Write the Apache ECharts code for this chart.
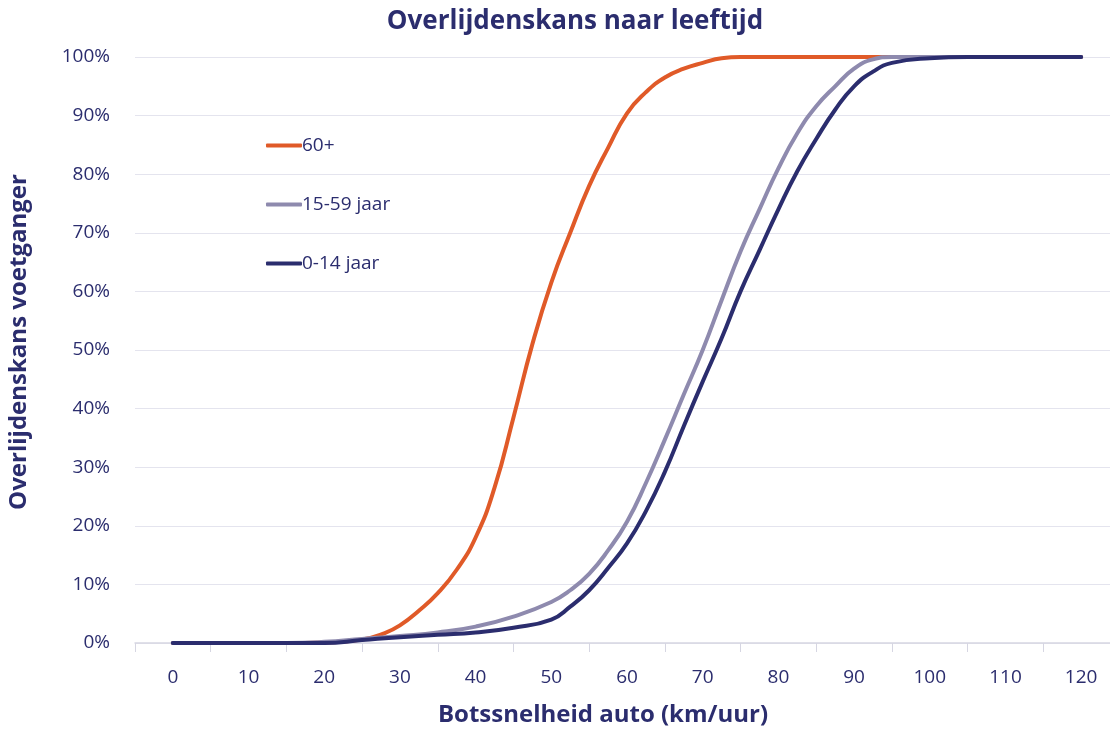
<!DOCTYPE html>
<html>
<head>
  <meta charset="utf-8">
  <title>Overlijdenskans naar leeftijd</title>
  <script src="https://cdn.jsdelivr.net/npm/echarts@6/dist/echarts.min.js"></script>
  <style>
    html, body { margin: 0; padding: 0; background: #fff; }
    #chart { width: 1110px; height: 731px; }
  </style>
</head>
<body>
<div id="chart"></div>
<script>
  // snelheid (km/uur) en kansen (%)
  var tickLabels = ['0', '10', '20', '30', '40', '50', '60', '70', '80', '90', '100', '110', '120'];
  var speedOld = [0, 5, 10, 15, 20, 25, 28, 30, 32.5, 35, 37.5, 40, 42.5, 45, 47.5, 50, 52.5, 55, 57.5, 60, 62.5, 65, 67.5, 70, 72.5, 75, 80, 90, 100, 110, 120];
  var riskOld = [0, 0, 0, 0, 0.1, 0.6, 1.7, 3, 5.5, 8.5, 12.5, 18, 26.5, 38.5, 51, 61.5, 70, 78, 84.5, 90.4, 94, 96.5, 98, 99, 99.8, 100, 100, 100, 100, 100, 100];
  var speedMid = [0, 5, 10, 15, 20, 25, 30, 35, 40, 45, 50, 52.5, 55, 57.5, 60, 62.5, 65, 67.5, 70, 72.5, 75, 77.5, 80, 82.5, 85, 87.5, 90, 92.5, 95, 100, 110, 120];
  var riskMid = [0, 0, 0, 0, 0.2, 0.7, 1.2, 1.8, 2.8, 4.5, 7, 9, 11.8, 15.8, 20.7, 27.3, 34.7, 42.4, 50, 58.5, 66.8, 74, 81, 87, 91.6, 95, 98, 99.6, 100, 100, 100, 100];
  var speedKid = [0, 5, 10, 15, 20, 25, 30, 35, 40, 45, 50, 52.5, 55, 57.5, 60, 62.5, 65, 67.5, 70, 72.5, 75, 77.5, 80, 82.5, 85, 87.5, 90, 92.5, 95, 100, 105, 110, 120];
  var riskKid = [0, 0, 0, 0, 0, 0.5, 1, 1.4, 1.8, 2.6, 4, 6.2, 9, 12.8, 17, 22.5, 29.2, 37, 44.6, 52, 60, 67, 74, 80.5, 86, 91, 95, 97.5, 99, 99.8, 100, 100, 100];

  var navy = '#2b2d6e';

  function pairs(xs, ys) {
    var out = [];
    for (var i = 0; i < xs.length; i++) {
      out.push([xs[i], ys[i]]);
    }
    return out;
  }

  function lineSeries(name, color, xs, ys) {
    return {
      name: name,
      type: 'line',
      xAxisIndex: 1,
      smooth: 0.5,
      symbol: 'none',
      lineStyle: { color: color, width: 4, cap: 'round' },
      itemStyle: { color: color },
      data: pairs(xs, ys)
    };
  }

  var chart = echarts.init(document.getElementById('chart'));
  chart.setOption({
    animation: false,
    textStyle: { fontFamily: 'Open Sans' },
    title: {
      text: 'Overlijdenskans naar leeftijd',
      left: 570,
      textAlign: 'center',
      top: 4,
      textStyle: { fontFamily: 'Open Sans', fontWeight: 'bold', fontSize: 26, color: navy }
    },
    legend: {
      orient: 'vertical',
      left: 261,
      top: 131,
      itemGap: 40,
      itemWidth: 36,
      itemHeight: 4,
      icon: 'roundRect',
      textStyle: { color: navy, fontSize: 19, padding: [0, 0, 0, -5] },
      data: ['60+', '15-59 jaar', '0-14 jaar']
    },
    grid: { left: 135, right: -9, top: 57, bottom: 88, outerBoundsMode: 'none' },
    xAxis: [
      {
        type: 'category',
        data: tickLabels,
        boundaryGap: true,
        name: 'Botssnelheid auto (km/uur)',
        nameLocation: 'middle',
        nameGap: 60,
        nameTextStyle: { fontWeight: 'bold', fontSize: 24, color: navy, padding: [0, 48, 0, 0] },
        axisLine: { lineStyle: { color: '#d6d6e2', width: 1.5 } },
        axisTick: { show: true, length: 9, lineStyle: { color: '#d6d6e2' } },
        axisLabel: { color: navy, fontSize: 19, margin: 25 },
        splitLine: { show: false }
      },
      {
        type: 'value',
        min: -5,
        max: 125,
        show: false
      }
    ],
    yAxis: {
      type: 'value',
      min: 0,
      max: 100,
      interval: 10,
      name: 'Overlijdenskans voetganger',
      nameLocation: 'middle',
      nameGap: 104,
      nameTextStyle: { fontWeight: 'bold', fontSize: 24, color: navy, padding: [0, 0, 0, 16] },
      axisLine: { show: false },
      axisTick: { show: false },
      axisLabel: { color: navy, fontSize: 19, margin: 25, formatter: '{value}%' },
      splitLine: { lineStyle: { color: '#e4e4ee', width: 1 } }
    },
    series: [
      lineSeries('60+', '#e05a28', speedOld, riskOld),
      lineSeries('15-59 jaar', '#8e8aae', speedMid, riskMid),
      lineSeries('0-14 jaar', navy, speedKid, riskKid)
    ]
  });
</script>
</body>
</html>
